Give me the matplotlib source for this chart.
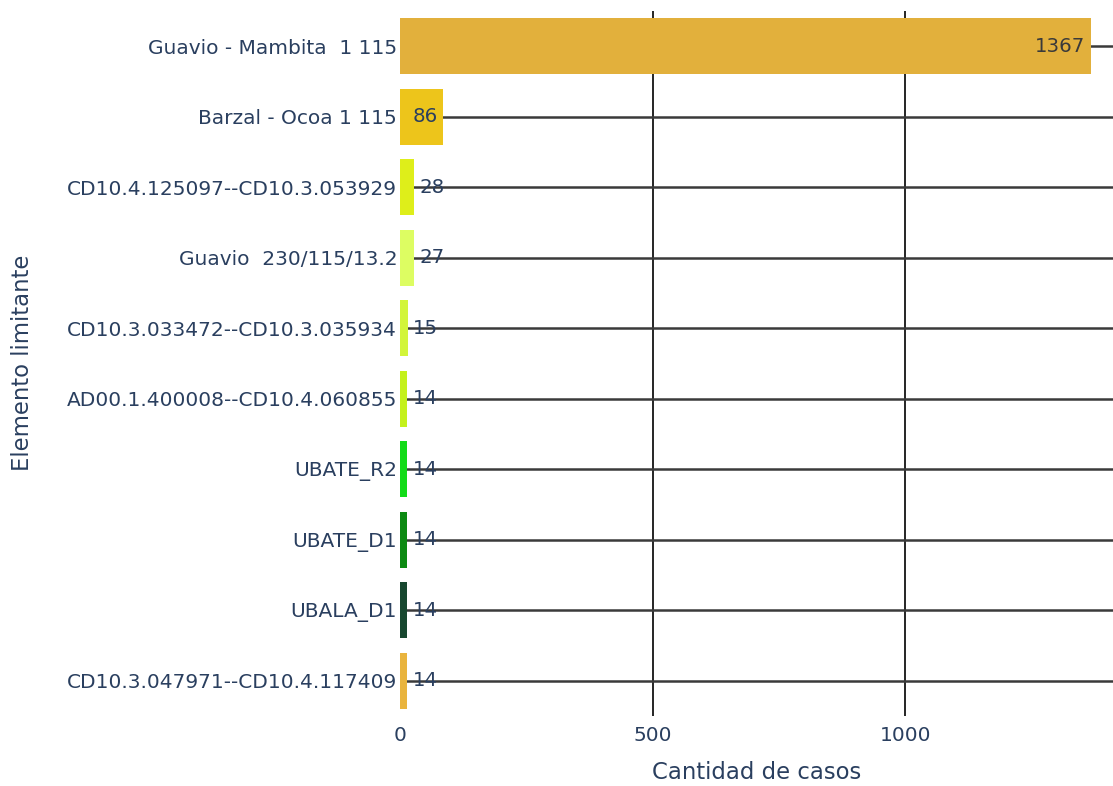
import matplotlib
matplotlib.use('Agg')
import matplotlib.pyplot as plt

# --- datos ---
elementos = ['Guavio - Mambita  1 115', 'Barzal - Ocoa 1 115', 'CD10.4.125097--CD10.3.053929',
             'Guavio  230/115/13.2', 'CD10.3.033472--CD10.3.035934', 'AD00.1.400008--CD10.4.060855',
             'UBATE_R2', 'UBATE_D1', 'UBALA_D1', 'CD10.3.047971--CD10.4.117409']
casos = [1367, 86, 28, 27, 15, 14, 14, 14, 14, 14]
colores = ['#E2B03C', '#EDC51B', '#DEEE1A', '#DDFD62', '#D2F53A', '#C4F11C',
           '#12DB18', '#0C8A12', '#17472F', '#E9B43E']

txt_color = '#2a3f5f'
plt.rcParams['font.family'] = ['DejaVu Sans']

fig = plt.figure(figsize=(11.13, 7.86), dpi=100)
ax = fig.add_axes([0.3594, 0.089, 0.6406, 0.897])

y = list(range(len(elementos)))[::-1]
ax.barh(y, casos, height=0.8, color=colores, zorder=2)

ax.set_xlim(0, 1411)
ax.set_ylim(-0.5, len(elementos) - 0.5)
ax.set_yticks(y)
ax.set_yticklabels(elementos)
ax.set_xticks([0, 500, 1000])
ax.tick_params(axis='both', length=0, labelsize=14.5, labelcolor=txt_color)
ax.tick_params(axis='y', pad=2)
ax.tick_params(axis='x', pad=7)

# grid negro, detras de las barras
for v in [500, 1000]:
    ax.axvline(v, color='black', lw=1.2, zorder=1)
for yy in y:
    ax.axhline(yy, color='#3a3a3a', lw=1.8, zorder=1)

for s in ax.spines.values():
    s.set_visible(False)

# etiquetas de valor
for yy, c in zip(y, casos):
    if c > 60:
        ax.annotate(str(c), (c, yy), xytext=(-4, 0), textcoords='offset points',
                    ha='right', va='center', fontsize=14.2,
                    color='#3a3a3a' if c > 1000 else txt_color, zorder=3)
    else:
        ax.annotate(str(c), (c, yy), xytext=(4, 0), textcoords='offset points',
                    ha='left', va='center', fontsize=14.2, color=txt_color, zorder=3)

ax.set_xlabel('Cantidad de casos', fontsize=16.4, color=txt_color, labelpad=12)
fig.text(0.02, 0.539, 'Elemento limitante', rotation=90, ha='center', va='center',
         fontsize=16.4, color=txt_color)

fig.savefig('out.png', dpi=100)
